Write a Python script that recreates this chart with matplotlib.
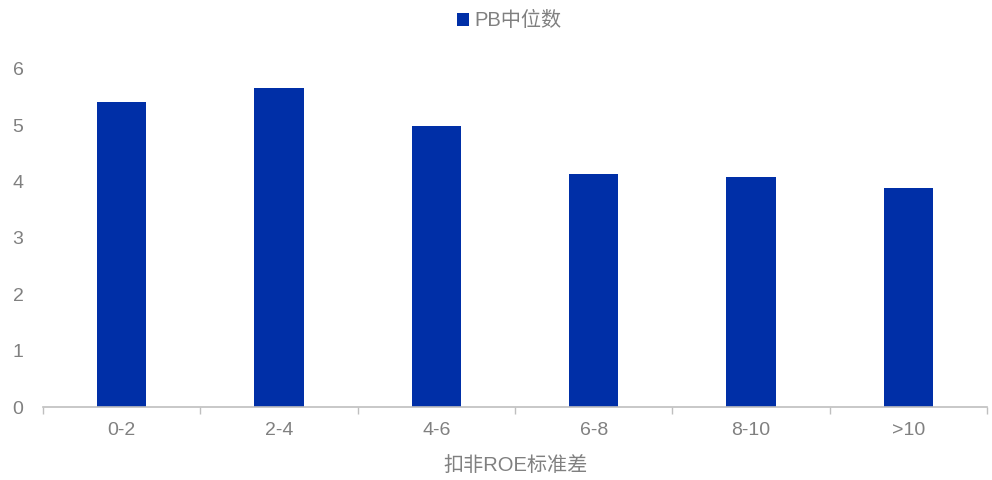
import matplotlib
matplotlib.use("Agg")
import matplotlib.pyplot as plt
import numpy as np

plt.rcParams['font.family'] = ['Liberation Sans', 'Noto Sans CJK SC', 'DejaVu Sans']

categories = ["0-2", "2-4", "4-6", "6-8", "8-10", ">10"]
pb_median = [5.40, 5.66, 4.99, 4.13, 4.07, 3.88]
series_name = "PB中位数"
x_title = "扣非ROE标准差"

bar_color = "#002FA7"
text_color = "#808080"
axis_color = "#BFBFBF"

fig = plt.figure(figsize=(9.92, 4.8), dpi=100)
ax = fig.add_axes([0.0433, 0.152, 0.9517, 0.705])

x = np.arange(len(categories))
ax.bar(x, pb_median, width=0.315, color=bar_color, label=series_name, zorder=2)

ax.set_xlim(-0.5, len(categories) - 0.5)
ax.set_ylim(0, 6)
ax.set_yticks(range(0, 7))
ax.tick_params(axis='y', length=0, labelsize=14, labelcolor=text_color, pad=14)

# category labels centred under bars, tick marks on category boundaries
ax.set_xticks(x)
ax.set_xticklabels(categories)
ax.tick_params(axis='x', which='major', length=0, labelsize=14, labelcolor=text_color, pad=11)
ax.set_xticks(np.arange(-0.5, len(categories)), minor=True)
ax.tick_params(axis='x', which='minor', length=5, color=axis_color, width=1)

for side in ("top", "right", "left"):
    ax.spines[side].set_visible(False)
ax.spines["bottom"].set_color(axis_color)
ax.spines["bottom"].set_linewidth(1.2)

ax.set_xlabel(x_title, fontsize=14.5, color=text_color, labelpad=12)

leg = fig.legend(loc="upper center", bbox_to_anchor=(0.513, 1.014), frameon=False,
                 fontsize=14.5, handlelength=0.6, handleheight=0.6, handletextpad=0.25)
for t in leg.get_texts():
    t.set_color(text_color)

fig.savefig("out.png", dpi=100)
